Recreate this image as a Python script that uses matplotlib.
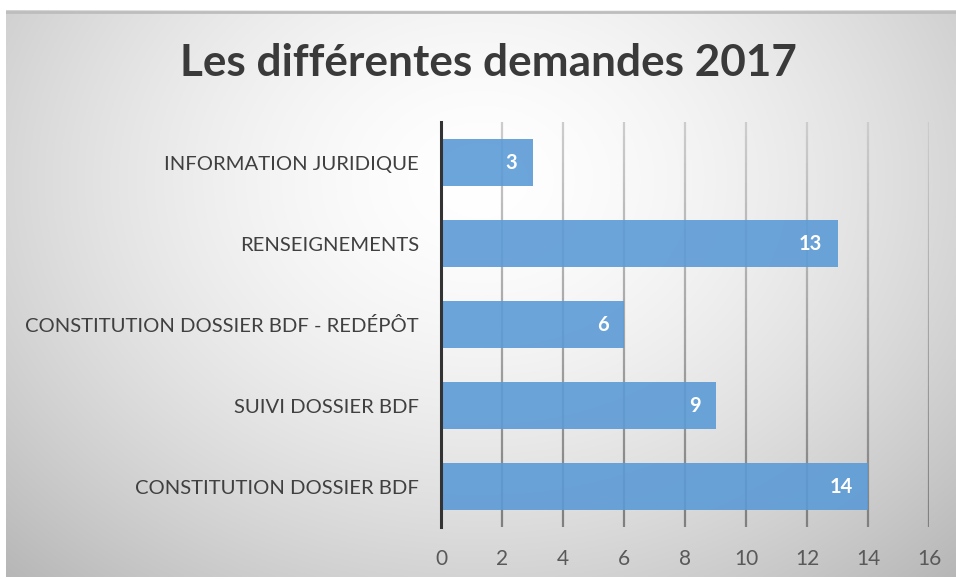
import numpy as np
import matplotlib
matplotlib.use("Agg")
import matplotlib.pyplot as plt
from matplotlib.collections import LineCollection

categories = ["CONSTITUTION DOSSIER BDF", "SUIVI DOSSIER BDF",
              "CONSTITUTION DOSSIER BDF - REDÉPÔT", "RENSEIGNEMENTS",
              "INFORMATION JURIDIQUE"]
values = [14, 9, 6, 13, 3]
xticks = [0, 2, 4, 6, 8, 10, 12, 14, 16]
title = "Les différentes demandes 2017"

plt.rcParams['font.family'] = ['Lato', 'DejaVu Sans']

W, H = 956, 579
fig = plt.figure(figsize=(W / 100, H / 100), dpi=100)
fig.patch.set_facecolor("white")

# background gradient panel
bg = fig.add_axes([6 / W, 2 / H, (W - 6) / W, (577 - 10) / H])
bg.set_axis_off()
ny, nx = 300, 500
yy, xx = np.mgrid[0:1:ny * 1j, 0:1:nx * 1j]
r2 = ((xx - 0.5) / 0.75) ** 2 + ((yy - 0.3) / 1.0) ** 2
val = 1.0 - 0.30 * np.clip(r2, 0, 1) ** 0.8
img = np.dstack([val, val, val])
bg.imshow(img, aspect="auto", extent=[0, 1, 0, 1], origin="upper")
bg.plot([0, 1], [0.997, 0.997], color="#bdbdbd", lw=2)
bg.set_xlim(0, 1)
bg.set_ylim(0, 1)

ax = fig.add_axes([441 / W, 52 / H, (929 - 441) / W, (527 - 122.5) / H])
ax.patch.set_alpha(0)
y = np.arange(len(categories))
ax.set_xlim(0, 16)
ax.set_ylim(-0.5, len(categories) - 0.5)

# gradient gridlines
nseg = 60
ys = np.linspace(-0.5, len(categories) - 0.5, nseg + 1)
for t in xticks[1:]:
    segs = [[(t, ys[i]), (t, ys[i + 1])] for i in range(nseg)]
    fr = np.linspace(0, 1, nseg)  # 0 bottom -> 1 top
    cols = [(0.50 + 0.30 * f, 0.50 + 0.30 * f, 0.50 + 0.30 * f) for f in fr]
    ax.add_collection(LineCollection(segs, colors=cols, linewidths=1.6, zorder=1))

bars = ax.barh(y, values, height=0.58, color="#5c9bd6", alpha=0.9, zorder=2)
for b, v in zip(bars, values):
    ax.text(b.get_width() - 0.50, b.get_y() + b.get_height() / 2, str(v),
            ha="right", va="center", color="white", fontsize=14.5,
            fontweight="bold", zorder=3)

ax.set_yticks(y)
ax.set_yticklabels(categories, fontsize=14.6, color="#404040")
ax.set_xticks(xticks)
ax.set_xticklabels([str(t) for t in xticks], fontsize=15, color="#595959")
ax.tick_params(axis="y", length=0, pad=16)
ax.tick_params(axis="x", length=0, pad=16)
for s in ["top", "right", "bottom"]:
    ax.spines[s].set_visible(False)
ax.spines["left"].set_color("#333333")
ax.spines["left"].set_linewidth(2.2)
ax.spines["left"].set_zorder(4)

fig.text(488 / W, 1 - 63 / H, title, ha="center", va="center",
         fontsize=31.8, fontweight="bold", color="#3a3a3a")

fig.savefig("out.png", dpi=100)
